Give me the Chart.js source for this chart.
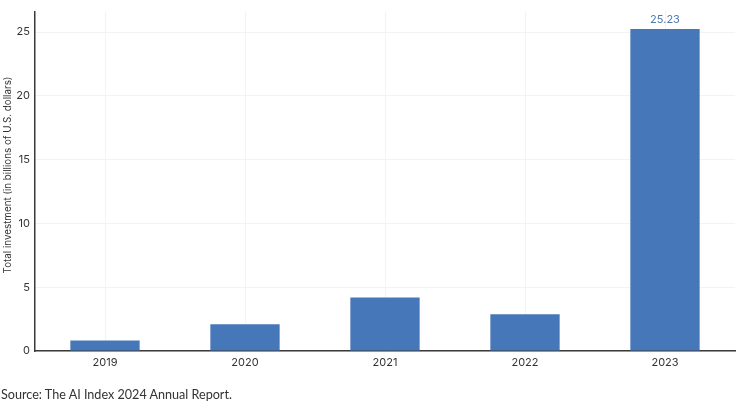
<!DOCTYPE html>
<html>
<head>
<meta charset="utf-8">
<script src="https://cdn.jsdelivr.net/npm/chart.js@4.4.0/dist/chart.umd.min.js"></script>
<style>
  html, body { margin: 0; padding: 0; background: #fff; }
  #wrap { position: relative; width: 738px; height: 412px; }
  #source { position: absolute; left: 1px; top: 387px; font-family: Lato, sans-serif; font-size: 12.6px; color: #333; white-space: nowrap; }
</style>
</head>
<body>
<div id="wrap">
  <canvas id="c" width="738" height="412"></canvas>
  <div id="source">Source: The AI Index 2024 Annual Report.</div>
</div>
<script>
const categories = ["2019", "2020", "2021", "2022", "2023"];
const investment = [0.83, 2.1, 4.19, 2.89, 25.23];
const yTicks = [0, 5, 10, 15, 20, 25];
const labelledIndex = 4;
const yTitle = "Total investment (in billions of U.S. dollars)";

const barColor = "#4677b8";

const extras = {
  id: "extras",
  afterDatasetsDraw(chart) {
    const ctx = chart.ctx;
    const meta = chart.getDatasetMeta(0);
    const el = meta.data[labelledIndex];
    ctx.save();
    ctx.font = "11px Inter, sans-serif";
    ctx.fillStyle = "#4a79b5";
    ctx.textAlign = "center";
    ctx.textBaseline = "bottom";
    ctx.fillText(investment[labelledIndex].toFixed(2), el.x, el.y - 4);
    ctx.restore();

    ctx.save();
    ctx.translate(8, 175);
    ctx.rotate(-Math.PI / 2);
    ctx.font = "9.8px Inter, sans-serif";
    ctx.fillStyle = "#333";
    ctx.textAlign = "center";
    ctx.textBaseline = "middle";
    ctx.fillText(yTitle, 0, 0);
    ctx.restore();
  }
};

new Chart(document.getElementById("c"), {
  type: "bar",
  data: {
    labels: categories,
    datasets: [{
      data: investment,
      backgroundColor: barColor,
      borderWidth: 0,
      categoryPercentage: 1.0,
      barPercentage: 0.495
    }]
  },
  options: {
    responsive: false,
    animation: false,
    devicePixelRatio: 1,
    layout: { padding: { top: 11, right: 3, left: 0, bottom: 0 } },
    plugins: { legend: { display: false }, tooltip: { enabled: false } },
    scales: {
      x: {
        grid: { offset: false, color: "#f3f3f3", drawTicks: false },
        border: { color: "#3a3a3a", width: 1.5 },
        ticks: { padding: 5, color: "#333", font: { family: "Inter, sans-serif", size: 11 } },
        afterFit(s) { s.height = 61; }
      },
      y: {
        min: 0,
        max: 26.6,
        grid: { color: "#f3f3f3", drawTicks: false },
        border: { color: "#3a3a3a", width: 1.5 },
        ticks: { padding: 5, color: "#333", font: { family: "Inter, sans-serif", size: 11 } },
        afterBuildTicks(s) { s.ticks = yTicks.map(v => ({ value: v })); },
        afterFit(s) { s.width = 35; }
      }
    }
  },
  plugins: [extras]
});
</script>
</body>
</html>
